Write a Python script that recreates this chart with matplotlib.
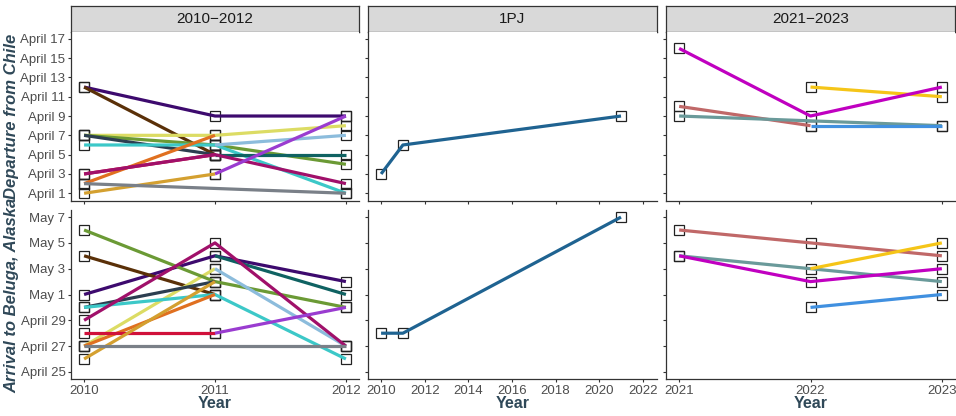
import numpy as np
import matplotlib
matplotlib.use("Agg")
import matplotlib.pyplot as plt

plt.rcParams['font.family'] = ['Liberation Sans', 'DejaVu Sans']

nan = np.nan

# ---------------- data ----------------
panel_titles = ["2010\u22122012", "1PJ", "2021\u22122023"]

# day values: April d -> d ; May d -> 30 + d
years_A = [2010, 2011, 2012]
colors_A = {
    "indigo": "#3D0A6E", "brown": "#5A3008", "yellow": "#DCDC64", "green": "#6B9A35",
    "slate": "#2C3E50", "cyan": "#3CC8C8", "lightblue": "#8CBCDC", "teal": "#0F6262",
    "orange": "#E07020", "red": "#D0103A", "maroon": "#A0106A", "violet": "#9A3CD0",
    "gold": "#D4A030", "grey": "#7A8088",
}
dep_A = {
    "indigo": [12, 9, 9], "brown": [12, 5, nan], "yellow": [7, 7, 8], "green": [7, 6, 4],
    "slate": [7, 5, nan], "cyan": [6, 6, 1], "lightblue": [nan, 6, 7], "teal": [nan, 5, 5],
    "orange": [2, 7, nan], "red": [3, 5, nan], "maroon": [3, 5, 2], "violet": [nan, 3, 9],
    "gold": [1, 3, nan], "grey": [2, nan, 1],
}
arr_A = {
    "indigo": [31, 34, 32], "brown": [34, 31, nan], "yellow": [27, 33, nan], "green": [36, 32, 30],
    "slate": [30, 32, nan], "cyan": [30, 31, 26], "lightblue": [nan, 33, 27], "teal": [nan, 34, 31],
    "orange": [27, 31, nan], "red": [28, 28, nan], "maroon": [29, 35, 27], "violet": [nan, 28, 30],
    "gold": [26, 32, nan], "grey": [27, nan, 27],
}

years_B = [2010, 2011, 2021]
colors_B = {"1PJ": "#1F6391"}
dep_B = {"1PJ": [3, 6, 9]}
arr_B = {"1PJ": [28, 28, 37]}

years_C = [2021, 2022, 2023]
colors_C = {"magenta": "#C000C0", "gold": "#F5C518", "rosy": "#C06868",
            "slateteal": "#6A9A9A", "blue": "#4090E0"}
dep_C = {"rosy": [10, 8, nan], "slateteal": [9, nan, 8], "blue": [nan, 8, 8],
         "gold": [nan, 12, 11], "magenta": [16, 9, 12]}
arr_C = {"rosy": [36, 35, 34], "slateteal": [34, nan, 32], "blue": [nan, 30, 31],
         "gold": [nan, 33, 35], "magenta": [34, 32, 33]}

dep_ticks = [1, 3, 5, 7, 9, 11, 13, 15, 17]
dep_labels = ["April 1", "April 3", "April 5", "April 7", "April 9", "April 11",
              "April 13", "April 15", "April 17"]
arr_ticks = [25, 27, 29, 31, 33, 35, 37]
arr_labels = ["April 25", "April 27", "April 29", "May 1", "May 3", "May 5", "May 7"]

xticks_A = [2010, 2011, 2012]
xticks_B = [2010, 2012, 2014, 2016, 2018, 2020, 2022]
xticks_C = [2021, 2022, 2023]

# ---------------- layout ----------------
W, H = 956, 416
fig = plt.figure(figsize=(W / 100, H / 100), dpi=100)

def rect(x0, y0, x1, y1):
    return [x0 / W, 1 - y1 / H, (x1 - x0) / W, (y1 - y0) / H]

cols = [(71, 359), (368, 657), (666, 955)]
top_row = (32, 201)
bot_row = (210, 379)
strip_row = (6, 32)
xlims = [(2009.9, 2012.1), (2009.4, 2022.65), (2020.9, 2023.1)]
dep_lim = (0.2, 17.7)
arr_lim = (24.45, 37.55)

TXT = "#4D4D4D"
LAB = "#2F4858"

def style(ax, xt, yt, ylabels, show_x):
    for s in ["top", "right"]:
        ax.spines[s].set_visible(False)
    for s in ["left", "bottom"]:
        ax.spines[s].set_color("#333333")
        ax.spines[s].set_linewidth(0.9)
    ax.set_xticks(xt)
    ax.set_yticks(yt)
    ax.tick_params(length=2.5, width=0.8, color="#333333", labelcolor=TXT,
                   labelsize=9.5, pad=1.5)
    if ylabels is None:
        ax.set_yticklabels([])
    else:
        ax.set_yticklabels(ylabels)
    if not show_x:
        ax.set_xticklabels([])
    else:
        ax.set_xticklabels([str(v) for v in xt])

def draw(ax, years, vals, colors):
    yrs = np.array(years, dtype=float)
    for k, v in vals.items():
        v = np.array(v, dtype=float)
        m = ~np.isnan(v)
        ax.plot(yrs[m], v[m], ls="none", marker="s", ms=6.8, mfc="none",
                mec="#222222", mew=0.9, zorder=2)
    for k, v in vals.items():
        v = np.array(v, dtype=float)
        m = ~np.isnan(v)
        ax.plot(yrs[m], v[m], color=colors[k], lw=2.3, solid_capstyle="butt", zorder=3)

datasets = [
    (years_A, dep_A, arr_A, colors_A, xticks_A),
    (years_B, dep_B, arr_B, colors_B, xticks_B),
    (years_C, dep_C, arr_C, colors_C, xticks_C),
]

for i, ((x0, x1), (yrs, dep, arr, colr, xt)) in enumerate(zip(cols, datasets)):
    # strip
    sax = fig.add_axes(rect(x0, strip_row[0], x1, strip_row[1]))
    sax.set_facecolor("#D9D9D9")
    sax.set_xticks([]); sax.set_yticks([])
    for s in sax.spines.values():
        s.set_color("#333333"); s.set_linewidth(0.9)
    sax.text(0.5, 0.5, panel_titles[i], ha="center", va="center", fontsize=11,
             color="#1A1A1A", transform=sax.transAxes)

    at = fig.add_axes(rect(x0, top_row[0], x1, top_row[1]))
    draw(at, yrs, dep, colr)
    at.set_xlim(*xlims[i]); at.set_ylim(*dep_lim)
    style(at, xt, dep_ticks, dep_labels if i == 0 else None, False)

    ab = fig.add_axes(rect(x0, bot_row[0], x1, bot_row[1]))
    draw(ab, yrs, arr, colr)
    ab.set_xlim(*xlims[i]); ab.set_ylim(*arr_lim)
    style(ab, xt, arr_ticks, arr_labels if i == 0 else None, True)

    fig.text(((x0 + x1) / 2) / W, 1 - 404 / H, "Year", ha="center", va="center",
             fontsize=11.5, fontweight="bold", color=LAB)

fig.text(12 / W, 1 - 116 / H, "Departure from Chile", rotation=90, ha="center",
         va="center", fontsize=12, fontweight="bold", fontstyle="italic", color=LAB)
fig.text(12 / W, 1 - 295 / H, "Arrival to Beluga, Alaska", rotation=90, ha="center",
         va="center", fontsize=12, fontweight="bold", fontstyle="italic", color=LAB)

fig.savefig("out.png", dpi=100)
